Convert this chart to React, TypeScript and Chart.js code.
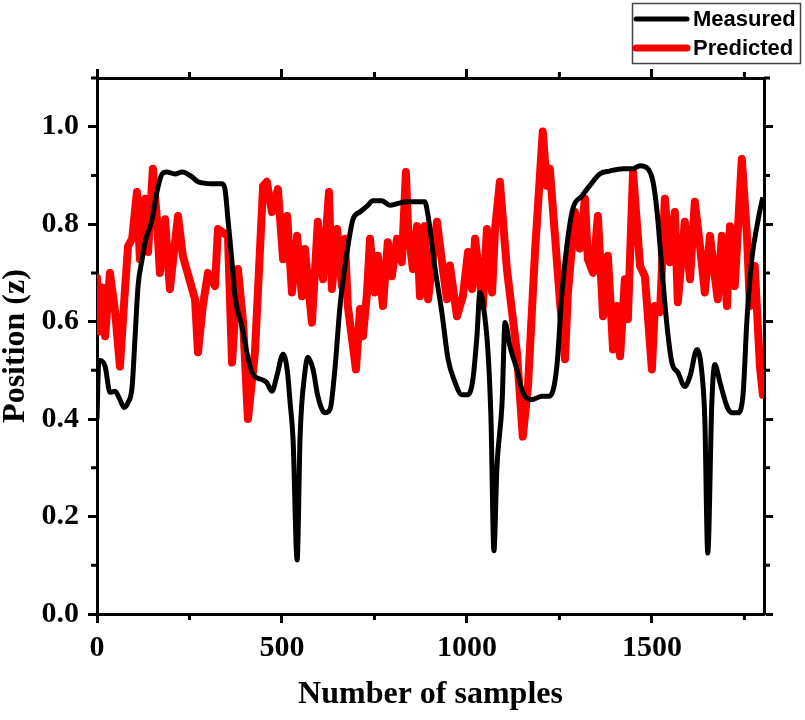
import React, { useEffect, useRef } from 'react';
import { Chart, registerables } from 'chart.js';

Chart.register(...registerables);

const xTicks = [0, 500, 1000, 1500];
const xMinorTicks = [250, 750, 1250, 1750];
const yTicks = [0, 0.2, 0.4, 0.6, 0.8, 1.0];
const yMinorTicks = [0.1, 0.3, 0.5, 0.7, 0.9, 1.1];

const seriesNames = ['Measured', 'Predicted'];

const measuredSamples = [
  0, 5, 8, 22, 35, 49, 62, 73, 84, 95, 103, 111, 122, 130, 149, 162, 176, 189, 211, 230,
  257, 273, 311, 338, 346, 354, 365, 373, 392, 405, 419, 432, 446, 459, 473, 486, 503, 514, 522, 530,
  541, 549, 562, 570, 584, 597, 616, 630, 643, 657, 676, 692, 711, 730, 746, 770, 792, 811, 838, 865,
  886, 895, 914, 932, 949, 968, 986, 1003, 1016, 1027, 1035, 1043, 1057, 1065, 1073, 1081, 1095, 1103, 1116, 1135,
  1151, 1176, 1203, 1224, 1243, 1257, 1270, 1286, 1311, 1332, 1359, 1386, 1422, 1449, 1468, 1489, 1503, 1514, 1527, 1541,
  1554, 1570, 1589, 1603, 1622, 1635, 1643, 1651, 1662, 1670, 1684, 1703, 1716, 1732, 1746, 1757, 1770, 1784, 1797, 1800,
];
const measuredValues = [
  0.40, 0.52, 0.52, 0.508, 0.455, 0.457, 0.44, 0.424, 0.434, 0.467, 0.57, 0.673, 0.728, 0.763, 0.81, 0.866, 0.903, 0.907, 0.903, 0.907,
  0.897, 0.887, 0.883, 0.883, 0.872, 0.81, 0.722, 0.652, 0.59, 0.537, 0.496, 0.485, 0.481, 0.475, 0.457, 0.488, 0.533, 0.502, 0.434, 0.358,
  0.111, 0.364, 0.496, 0.527, 0.502, 0.447, 0.413, 0.42, 0.502, 0.632, 0.743, 0.81, 0.825, 0.837, 0.848, 0.848, 0.839, 0.842, 0.846, 0.846,
  0.846, 0.817, 0.708, 0.62, 0.523, 0.475, 0.45, 0.45, 0.481, 0.57, 0.66, 0.64, 0.537, 0.40, 0.13, 0.30, 0.434, 0.598, 0.55, 0.502,
  0.455, 0.44, 0.447, 0.447, 0.508, 0.66, 0.755, 0.831, 0.858, 0.879, 0.903, 0.909, 0.914, 0.914, 0.92, 0.914, 0.887, 0.825, 0.708, 0.59,
  0.516, 0.496, 0.467, 0.488, 0.543, 0.496, 0.40, 0.125, 0.434, 0.512, 0.475, 0.426, 0.413, 0.413, 0.447, 0.605, 0.728, 0.796, 0.846, 0.855,
];

const predictedSamples = [
  0, 5, 14, 22, 35, 49, 62, 76, 84, 95, 108, 116, 130, 138, 151, 162, 170, 184, 197, 219,
  232, 265, 273, 286, 300, 319, 327, 354, 365, 381, 395, 408, 427, 449, 459, 473, 489, 503, 514, 527,
  541, 554, 562, 581, 597, 611, 627, 635, 649, 662, 670, 678, 700, 711, 719, 730, 738, 751, 759, 773,
  786, 797, 811, 824, 835, 841, 854, 865, 873, 886, 895, 919, 935, 946, 954, 973, 989, 1003, 1014, 1022,
  1043, 1054, 1068, 1076, 1089, 1108, 1135, 1151, 1165, 1184, 1205, 1216, 1224, 1238, 1251, 1265, 1273, 1292, 1305, 1319,
  1327, 1341, 1354, 1368, 1381, 1395, 1405, 1414, 1427, 1435, 1449, 1468, 1481, 1500, 1508, 1522, 1535, 1549, 1562, 1570,
  1589, 1603, 1616, 1630, 1643, 1657, 1670, 1678, 1689, 1703, 1711, 1724, 1743, 1757, 1765, 1778, 1792, 1800,
];
const predictedValues = [
  0.69, 0.58, 0.67, 0.57, 0.70, 0.62, 0.508, 0.67, 0.755, 0.77, 0.866, 0.728, 0.852, 0.743, 0.914, 0.81, 0.70, 0.81, 0.667, 0.817,
  0.735, 0.646, 0.537, 0.632, 0.70, 0.673, 0.79, 0.776, 0.516, 0.708, 0.598, 0.40, 0.537, 0.879, 0.887, 0.825, 0.872, 0.728, 0.817, 0.66,
  0.776, 0.652, 0.749, 0.598, 0.805, 0.687, 0.866, 0.667, 0.79, 0.673, 0.77, 0.632, 0.502, 0.626, 0.57, 0.66, 0.77, 0.66, 0.735, 0.632,
  0.763, 0.693, 0.77, 0.722, 0.907, 0.79, 0.708, 0.796, 0.652, 0.796, 0.646, 0.805, 0.708, 0.646, 0.715, 0.611, 0.652, 0.743, 0.667, 0.77,
  0.632, 0.79, 0.66, 0.79, 0.887, 0.708, 0.537, 0.364, 0.467, 0.743, 0.99, 0.879, 0.914, 0.776, 0.646, 0.523, 0.66, 0.825, 0.75, 0.852,
  0.728, 0.70, 0.817, 0.611, 0.735, 0.543, 0.632, 0.529, 0.687, 0.605, 0.907, 0.714, 0.693, 0.502, 0.632, 0.62, 0.852, 0.722, 0.825, 0.64,
  0.805, 0.687, 0.846, 0.755, 0.66, 0.776, 0.693, 0.646, 0.776, 0.632, 0.796, 0.673, 0.934, 0.776, 0.632, 0.714, 0.508, 0.45,
];

const seriesColors = ['#000000', '#ff0000'];

const serif = '"Liberation Serif", "Times New Roman", serif';
const sans = '"Liberation Sans", Arial, sans-serif';

const framePlugin = {
  id: 'frameExtras',
  afterDraw(chart: any) {
    const { ctx, chartArea: a, scales } = chart;
    ctx.save();
    // minor ticks on all four sides
    ctx.strokeStyle = '#000';
    ctx.lineWidth = 3;
    ctx.beginPath();
    xMinorTicks.forEach((v) => {
      const px = scales.x.getPixelForValue(v);
      ctx.moveTo(px, a.bottom);
      ctx.lineTo(px, a.bottom + 6);
      ctx.moveTo(px, a.top);
      ctx.lineTo(px, a.top - 6);
    });
    yMinorTicks.forEach((v) => {
      const py = scales.y.getPixelForValue(v);
      ctx.moveTo(a.left, py);
      ctx.lineTo(a.left - 6, py);
      ctx.moveTo(a.right, py);
      ctx.lineTo(a.right + 6, py);
    });
    ctx.stroke();

    // boxed legend above the plot, top right
    ctx.strokeStyle = '#444';
    ctx.lineWidth = 1.5;
    ctx.strokeRect(632.5, 3.5, 168, 60);
    ctx.lineCap = 'round';
    ctx.font = `bold 22px ${sans}`;
    ctx.textBaseline = 'middle';
    ctx.textAlign = 'left';
    seriesNames.forEach((name, i) => {
      const y = 19 + i * 29;
      ctx.strokeStyle = seriesColors[i];
      ctx.lineWidth = i === 0 ? 5 : 7;
      ctx.beginPath();
      ctx.moveTo(636, y);
      ctx.lineTo(687, y);
      ctx.stroke();
      ctx.fillStyle = '#000';
      ctx.fillText(name, 693, y + 1);
    });
    ctx.restore();
  },
};

const tickFont = { family: serif, size: 30, weight: 'bold' as const };
const titleFont = { family: serif, size: 32, weight: 'bold' as const, lineHeight: 1 };
const tickGrid = {
  display: true,
  drawOnChartArea: false,
  drawTicks: true,
  tickLength: 9,
  tickWidth: 3,
  tickColor: '#000',
  color: '#000',
};
const axisBorder = { display: true, color: '#000', width: 3 };

const App: React.FC = () => {
  const canvasRef = useRef<HTMLCanvasElement | null>(null);
  const chartRef = useRef<Chart | null>(null);

  useEffect(() => {
    if (!canvasRef.current) return;
    const setXTicks = (s: any) => {
      s.ticks = xTicks.map((value) => ({ value }));
    };
    const setYTicks = (s: any) => {
      s.ticks = yTicks.map((value) => ({ value }));
    };

    chartRef.current = new Chart(canvasRef.current, {
      type: 'line',
      data: {
        datasets: [
          {
            label: seriesNames[0],
            data: measuredSamples.map((x, i) => ({ x, y: measuredValues[i] })),
            borderColor: seriesColors[0],
            borderWidth: 5,
            pointRadius: 0,
            cubicInterpolationMode: 'monotone',
            borderJoinStyle: 'round',
            fill: false,
          },
          {
            label: seriesNames[1],
            data: predictedSamples.map((x, i) => ({ x, y: predictedValues[i] })),
            borderColor: seriesColors[1],
            borderWidth: 8,
            pointRadius: 0,
            tension: 0,
            borderJoinStyle: 'round',
            borderCapStyle: 'round',
            fill: false,
          },
        ],
      },
      options: {
        animation: false,
        responsive: false,
        maintainAspectRatio: false,
        layout: { padding: 0 },
        plugins: { legend: { display: false }, tooltip: { enabled: false } },
        scales: {
          x: {
            type: 'linear',
            position: 'bottom',
            min: 0,
            max: 1803,
            afterBuildTicks: setXTicks,
            afterFit: (s: any) => {
              s.height = 106;
            },
            grid: tickGrid,
            border: axisBorder,
            ticks: {
              color: '#000',
              font: tickFont,
              padding: 7,
              maxRotation: 0,
              autoSkip: false,
              callback: (v: any) => String(v),
            },
            title: {
              display: true,
              text: 'Number of samples',
              color: '#000',
              font: titleFont,
              padding: { top: 0, bottom: 9 },
            },
          },
          x2: {
            type: 'linear',
            position: 'top',
            min: 0,
            max: 1803,
            afterBuildTicks: setXTicks,
            afterFit: (s: any) => {
              s.height = 78;
            },
            grid: tickGrid,
            border: axisBorder,
            ticks: { display: false },
          },
          y: {
            type: 'linear',
            position: 'left',
            min: 0,
            max: 1.1,
            afterBuildTicks: setYTicks,
            afterFit: (s: any) => {
              s.width = 97;
            },
            grid: tickGrid,
            border: axisBorder,
            ticks: {
              color: '#000',
              font: tickFont,
              padding: 9,
              autoSkip: false,
              callback: (v: any) => Number(v).toFixed(1),
            },
            title: {
              display: true,
              text: 'Position (z)',
              color: '#000',
              font: titleFont,
              padding: { top: 0, bottom: 0 },
            },
          },
          y2: {
            type: 'linear',
            position: 'right',
            min: 0,
            max: 1.1,
            afterBuildTicks: setYTicks,
            afterFit: (s: any) => {
              s.width = 41;
            },
            grid: tickGrid,
            border: axisBorder,
            ticks: { display: false },
          },
        },
      },
      plugins: [framePlugin],
    } as any);

    return () => {
      if (chartRef.current) {
        chartRef.current.destroy();
        chartRef.current = null;
      }
    };
  }, []);

  return (
    <div style={{ position: 'absolute', left: 0, top: 0, width: 805, height: 720, background: '#fff' }}>
      <canvas ref={canvasRef} width={805} height={720} style={{ width: 805, height: 720 }} />
    </div>
  );
};

export default App;
